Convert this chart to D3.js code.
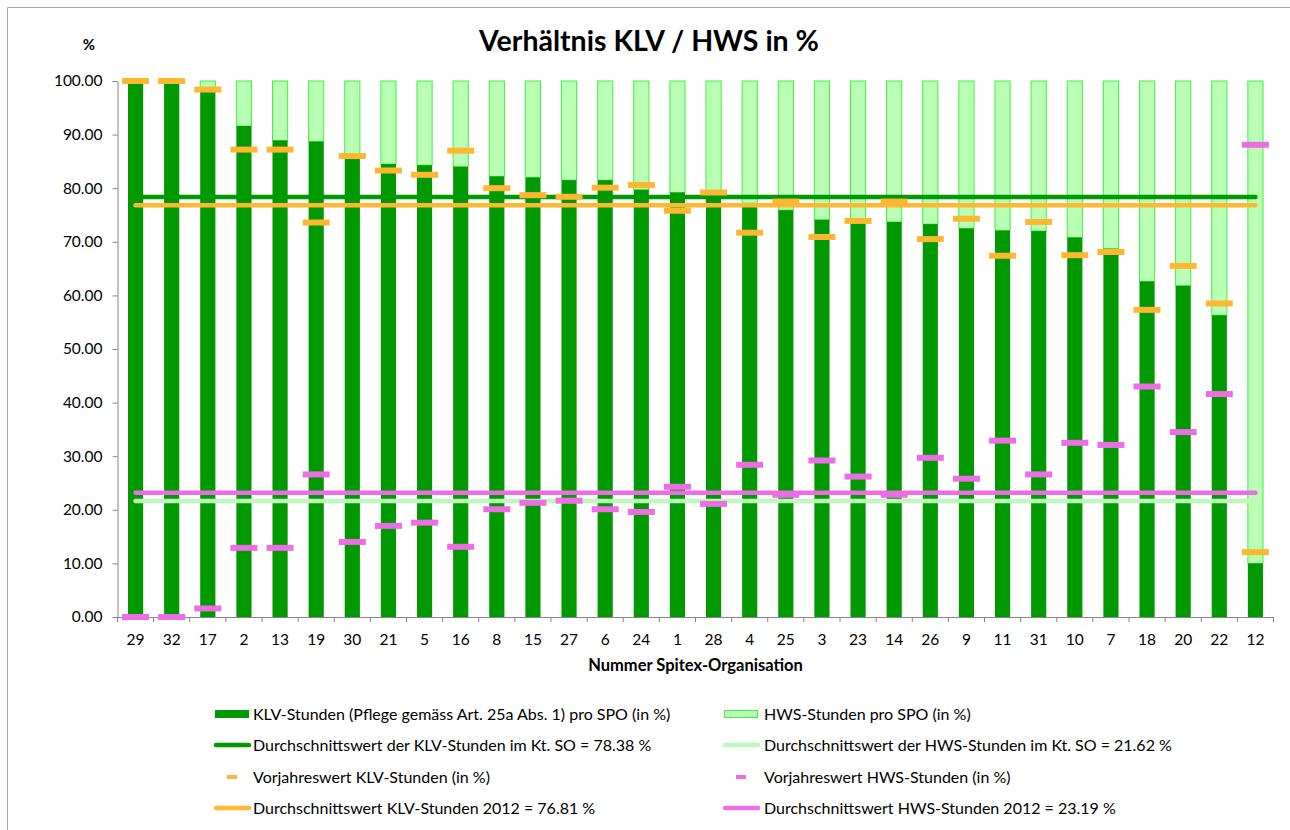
<!DOCTYPE html>
<html>
<head>
<meta charset="utf-8">
<script src="https://cdn.jsdelivr.net/npm/d3@7"></script>
<style>
    body { margin: 0; background: #fff; }
    text { font-family: Lato, 'Open Sans', sans-serif; fill: #000; }
    .y-axis path, .y-axis line, .x-axis path, .x-axis line { stroke: #868686; }
</style>
</head>
<body>
<div class="bar-chart__container"></div>
<script>
//data
const organisations = [29, 32, 17, 2, 13, 19, 30, 21, 5, 16, 8, 15, 27, 6, 24, 1,
    28, 4, 25, 3, 23, 14, 26, 9, 11, 31, 10, 7, 18, 20, 22, 12];
// KLV share per organisation (in %), HWS is the rest up to 100
const klvShare = [99.7, 99.6, 98.0, 91.6, 88.9, 88.7, 86.3, 84.5, 84.3, 84.0, 82.2, 82.0,
    81.5, 81.5, 79.7, 79.2, 79.0, 77.2, 75.9, 74.1, 73.8, 73.7, 73.3, 72.5, 72.1, 72.0,
    70.8, 68.7, 62.6, 61.8, 56.3, 10.0];
const hwsShare = [0.3, 0.4, 2.0, 8.4, 11.1, 11.3, 13.7, 15.5, 15.7, 16.0, 17.8, 18.0,
    18.5, 18.5, 20.3, 20.8, 21.0, 22.8, 24.1, 25.9, 26.2, 26.3, 26.7, 27.5, 27.9, 28.0,
    29.2, 31.3, 37.4, 38.2, 43.7, 90.0];
// previous year values
const klvPrevYear = [100.0, 100.0, 98.4, 87.2, 87.2, 73.6, 86.0, 83.3, 82.5, 87.0, 80.0, 78.7,
    78.4, 80.1, 80.6, 75.8, 79.2, 71.7, 77.5, 70.9, 73.9, 77.5, 70.5, 74.3, 67.4, 73.7,
    67.5, 68.1, 57.3, 65.5, 58.5, 12.1];
const hwsPrevYear = [0.0, 0.0, 1.6, 12.9, 12.9, 26.6, 14.0, 17.0, 17.6, 13.1, 20.1, 21.3,
    21.7, 20.1, 19.6, 24.3, 21.1, 28.4, 22.8, 29.2, 26.2, 22.8, 29.7, 25.8, 32.9, 26.6,
    32.5, 32.1, 43.0, 34.5, 41.6, 88.1];
// averages
const avgKlv = 78.38;
const avgHws = 21.62;
const avgKlvPrev = 76.81;
const avgHwsPrev = 23.19;

const yTicks = [0, 10, 20, 30, 40, 50, 60, 70, 80, 90, 100];

const legendLabels = [
    'KLV-Stunden (Pflege gemäss Art. 25a Abs. 1) pro SPO (in %)',
    'HWS-Stunden pro SPO (in %)',
    'Durchschnittswert der KLV-Stunden im Kt. SO = 78.38 %',
    'Durchschnittswert der HWS-Stunden im Kt. SO = 21.62 %',
    'Vorjahreswert KLV-Stunden (in %)',
    'Vorjahreswert HWS-Stunden (in %)',
    'Durchschnittswert KLV-Stunden 2012 = 76.81 %',
    'Durchschnittswert HWS-Stunden 2012 = 23.19 %'
];

//colors
const darkGreen = '#009900';
const lightGreen = '#b9ffb4';
const lightGreenStroke = '#44ee44';
const avgLightGreen = '#bdf8bd';
const orange = '#ffb732';
const pink = '#ec6de4';

//data preparation
const prepareData = () => organisations.map((id, i) => ({
    id: id,
    klv: klvShare[i],
    hws: hwsShare[i],
    klvPrev: klvPrevYear[i],
    hwsPrev: hwsPrevYear[i]
}));

//d3 chart
const defineChart = (data) => {
    const width = 1290;
    const height = 830;
    const margin = { top: 81, right: 16.5, bottom: 213, left: 117.5 };
    const widthChart = width - margin.left - margin.right;
    const heightChart = height - margin.top - margin.bottom;

    //scales
    const xScale = d3
        .scaleBand()
        .domain(data.map(d => d.id))
        .range([0, widthChart])
        .paddingInner(0.58)
        .paddingOuter(0.29);
    const yScale = d3
        .scaleLinear()
        .domain([0, 100])
        .range([heightChart, 0]);
    const step = xScale.step();
    const cx = id => xScale(id) + xScale.bandwidth() / 2;

    const root = d3.select('.bar-chart__container')
        .append('svg')
        .attr('width', width)
        .attr('height', height);

    // frame (top and left edges visible)
    root.append('path')
        .attr('d', `M7.5,${height}V7.5H${width}`)
        .style('fill', 'none')
        .style('stroke', '#a6a6a6');

    const svg = root
        .append('g')
        .attr('transform', `translate(${margin.left}, ${margin.top})`);

    // header
    root.append('text')
        .attr('x', 649)
        .attr('y', 51)
        .style('text-anchor', 'middle')
        .style('font-size', '28.5px')
        .style('font-weight', 'bold')
        .text('Verhältnis KLV / HWS in %');
    root.append('text')
        .attr('x', 89)
        .attr('y', 50)
        .style('text-anchor', 'middle')
        .style('font-size', '15px')
        .style('font-weight', 'bold')
        .text('%');

    // axes
    const yAxis = d3
        .axisLeft(yScale)
        .tickValues(yTicks)
        .tickFormat(d3.format('.2f'))
        .tickSizeInner(5)
        .tickSizeOuter(0)
        .tickPadding(10);
    svg.append('g')
        .attr('class', 'y-axis')
        .call(yAxis)
        .selectAll('text')
        .style('font-size', '15.5px')
        .style('font-family', 'Lato');

    const xAxis = d3
        .axisBottom(xScale)
        .tickSizeInner(5)
        .tickSizeOuter(0)
        .tickPadding(12);
    const xAxisDraw = svg.append('g')
        .attr('class', 'x-axis')
        .attr('transform', `translate(0,${heightChart})`)
        .call(xAxis);
    xAxisDraw.selectAll('text')
        .style('font-size', '15.5px')
        .style('font-family', 'Lato');
    // ticks sit between categories
    xAxisDraw.selectAll('.tick line')
        .attr('x1', -step / 2)
        .attr('x2', -step / 2);
    xAxisDraw.append('line')
        .attr('x1', widthChart)
        .attr('x2', widthChart)
        .attr('y2', 5)
        .style('stroke', '#868686');

    svg.append('text')
        .attr('x', widthChart / 2)
        .attr('y', heightChart + 54)
        .style('text-anchor', 'middle')
        .style('font-size', '16.5px')
        .style('font-weight', 'bold')
        .text('Nummer Spitex-Organisation');

    // stacked bars
    const bars = svg.append('g').attr('class', 'bars');
    bars.selectAll('.bar-hws')
        .data(data)
        .enter()
        .append('rect')
        .attr('class', 'bar-hws')
        .attr('x', d => xScale(d.id))
        .attr('width', xScale.bandwidth())
        .attr('y', d => yScale(d.klv + d.hws))
        .attr('height', d => yScale(d.klv) - yScale(d.klv + d.hws))
        .style('fill', lightGreen)
        .style('stroke', lightGreenStroke)
        .style('stroke-width', 1);
    bars.selectAll('.bar-klv')
        .data(data)
        .enter()
        .append('rect')
        .attr('class', 'bar-klv')
        .attr('x', d => xScale(d.id))
        .attr('width', xScale.bandwidth())
        .attr('y', d => yScale(d.klv))
        .attr('height', d => heightChart - yScale(d.klv))
        .style('fill', darkGreen);

    // average lines
    const first = data[0].id;
    const last = data[data.length - 1].id;
    const averages = [
        { value: avgKlv, color: darkGreen },
        { value: avgKlvPrev, color: orange },
        { value: avgHws, color: avgLightGreen },
        { value: avgHwsPrev, color: pink }
    ];
    svg.append('g')
        .selectAll('line')
        .data(averages)
        .enter()
        .append('line')
        .attr('x1', cx(first))
        .attr('x2', cx(last))
        .attr('y1', d => yScale(d.value))
        .attr('y2', d => yScale(d.value))
        .style('stroke', d => d.color)
        .style('stroke-width', 4.5)
        .style('stroke-linecap', 'round');

    // previous year markers
    const markerW = 27;
    const markerH = 6;
    const markers = svg.append('g').attr('class', 'markers');
    markers.selectAll('.marker-klv')
        .data(data)
        .enter()
        .append('rect')
        .attr('x', d => cx(d.id) - markerW / 2)
        .attr('y', d => yScale(d.klvPrev) - markerH / 2)
        .attr('width', markerW)
        .attr('height', markerH)
        .style('fill', orange);
    markers.selectAll('.marker-hws')
        .data(data)
        .enter()
        .append('rect')
        .attr('x', d => cx(d.id) - markerW / 2)
        .attr('y', d => yScale(d.hwsPrev) - markerH / 2)
        .attr('width', markerW)
        .attr('height', markerH)
        .style('fill', pink);

    // legend
    const legendRows = [714, 745, 777, 808];
    const legendCols = [{ sx: 215, tx: 253 }, { sx: 724, tx: 764 }];
    const symbols = ['bar-klv', 'bar-hws', 'line-klv', 'line-hws', 'dash-klv', 'dash-hws', 'line-klvprev', 'line-hwsprev'];
    const legend = root.append('g').attr('class', 'legend');
    legendLabels.forEach((label, i) => {
        const col = legendCols[i % 2];
        const y = legendRows[Math.floor(i / 2)];
        const g = legend.append('g');
        const sym = symbols[i];
        if (sym === 'bar-klv') {
            g.append('rect').attr('x', col.sx).attr('y', y - 4).attr('width', 34).attr('height', 8)
                .style('fill', darkGreen);
        } else if (sym === 'bar-hws') {
            g.append('rect').attr('x', col.sx + 0.5).attr('y', y - 3.5).attr('width', 33).attr('height', 7)
                .style('fill', lightGreen).style('stroke', lightGreenStroke);
        } else if (sym.startsWith('line')) {
            const color = { 'line-klv': darkGreen, 'line-hws': avgLightGreen, 'line-klvprev': orange, 'line-hwsprev': pink }[sym];
            g.append('line').attr('x1', col.sx + 1).attr('x2', col.sx + 34).attr('y1', y).attr('y2', y)
                .style('stroke', color).style('stroke-width', 4.5).style('stroke-linecap', 'round');
        } else {
            g.append('rect').attr('x', col.sx + 12).attr('y', y - 2).attr('width', 10).attr('height', 4)
                .style('fill', sym === 'dash-klv' ? orange : pink);
        }
        g.append('text')
            .attr('x', col.tx)
            .attr('y', y)
            .attr('dy', '0.35em')
            .style('font-size', '16px')
            .text(label);
    });
}

defineChart(prepareData());
</script>
</body>
</html>
